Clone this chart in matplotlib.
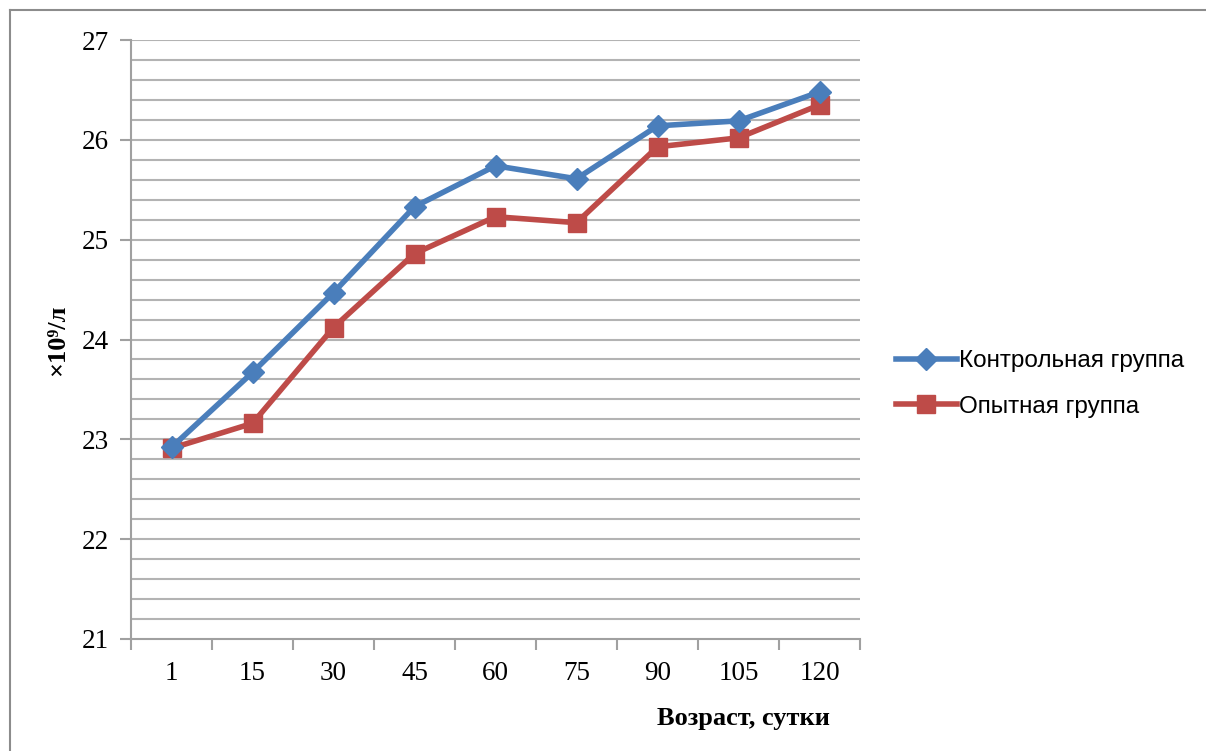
import matplotlib
matplotlib.use("Agg")
import matplotlib.pyplot as plt
from matplotlib.lines import Line2D
import numpy as np

categories = ["1", "15", "30", "45", "60", "75", "90", "105", "120"]
control = [22.92, 23.67, 24.47, 25.33, 25.74, 25.61, 26.14, 26.19, 26.48]
experimental = [22.91, 23.16, 24.12, 24.86, 25.23, 25.17, 25.93, 26.02, 26.35]
series_names = ["Контрольная группа", "Опытная группа"]
y_ticks = [21, 22, 23, 24, 25, 26, 27]

W, H = 1206, 751
fig = plt.figure(figsize=(W / 100, H / 100), dpi=100)
ax = fig.add_axes([131 / W, 1 - 639 / H, (860 - 131) / W, (639 - 40) / H])

x = np.arange(len(categories))
blue = "#4a7ebb"
red = "#be4b48"
ax.plot(x, control, color=blue, lw=4, marker="D", ms=11, mec=blue, mfc=blue,
        label=series_names[0], zorder=4)
ax.plot(x, experimental, color=red, lw=4, marker="s", ms=13, mec=red, mfc=red,
        label=series_names[1], zorder=3)

ax.set_xlim(-0.5, len(categories) - 0.5)
ax.set_ylim(21, 27)

grid_c = "#b3b3b3"
for yv in np.arange(21.2, 27.01, 0.2):
    ax.axhline(yv, color=grid_c, lw=1.5, zorder=1)

for s in ["top", "right"]:
    ax.spines[s].set_visible(False)
for s in ["left", "bottom"]:
    ax.spines[s].set_color("#a0a0a0")
    ax.spines[s].set_linewidth(1.5)

ax.set_yticks(y_ticks)
ax.set_yticklabels([str(v) for v in y_ticks], fontfamily="Liberation Serif", fontsize=19.5)
ax.tick_params(axis="y", length=8, width=1.5, color="#a0a0a0", pad=8)

ax.set_xticks(np.arange(-0.5, len(categories), 1.0))
ax.set_xticklabels([])
ax.tick_params(axis="x", which="major", length=8, width=1.5, color="#a0a0a0")
ax.set_xticks(x, minor=True)
ax.set_xticklabels(categories, minor=True, fontfamily="Liberation Serif", fontsize=19.5)
ax.tick_params(axis="x", which="minor", length=0, pad=16)

fig.text(58 / W, 1 - 340 / H, "×10⁹/л", rotation=90, ha="center", va="center",
         fontfamily="Liberation Serif", fontsize=19, fontweight="bold")
fig.text(743 / W, 1 - 718 / H, "Возраст, сутки", ha="center", va="center",
         fontfamily="Liberation Serif", fontsize=19, fontweight="bold")

leg = fig.legend(loc="center left", bbox_to_anchor=(896 / W, 1 - 384 / H),
                 frameon=False, prop={"family": "Liberation Sans", "size": 17.5},
                 handlelength=2.5, handletextpad=0.1, labelspacing=0.95,
                 borderpad=0, borderaxespad=0)

border_c = "#8c8c8c"
fig.add_artist(Line2D([10 / W, 10 / W], [0, 1 - 10 / H], transform=fig.transFigure,
                      color=border_c, lw=1.5))
fig.add_artist(Line2D([10 / W, 1], [1 - 10 / H, 1 - 10 / H], transform=fig.transFigure,
                      color=border_c, lw=1.5))

fig.savefig("out.png", dpi=100)
